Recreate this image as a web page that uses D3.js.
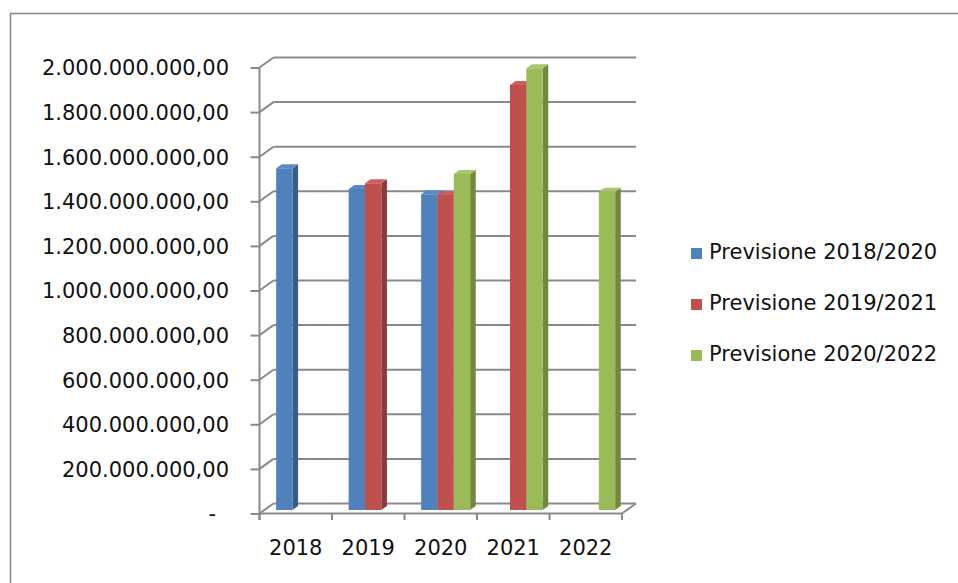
<!DOCTYPE html>
<html>
<head>
<meta charset="utf-8">
<script src="https://cdn.jsdelivr.net/npm/d3@7"></script>
<style>
  html, body { margin: 0; padding: 0; background: #fff; }
  svg { display: block; }
  text { font-family: "DejaVu Sans", sans-serif; fill: #111; }
</style>
</head>
<body>
<svg id="chart" width="958" height="583"></svg>
<script>
// ---- data ----
const categories = ["2018", "2019", "2020", "2021", "2022"];
const seriesNames = ["Previsione 2018/2020", "Previsione 2019/2021", "Previsione 2020/2022"];
const prev2018_2020 = [1532000000, 1439000000, 1416000000, null, null];
const prev2019_2021 = [null, 1465000000, 1412000000, 1906000000, null];
const prev2020_2022 = [null, null, 1507000000, 1981000000, 1427000000];
const yTicks = [0, 200000000, 400000000, 600000000, 800000000, 1000000000,
                1200000000, 1400000000, 1600000000, 1800000000, 2000000000];

const seriesValues = [prev2018_2020, prev2019_2021, prev2020_2022];
const colors = [
  { front: "#4F81BD", side: "#385D8A", top: "#5A8BC6" },
  { front: "#C0504D", side: "#8C3A38", top: "#C9605D" },
  { front: "#9BBB59", side: "#71893F", top: "#A8C66B" }
];

// ---- layout ----
const svg = d3.select("#chart");
const x0 = 259.5, x1 = 622;
const DX = 14, DY = -10;           // depth projection of the back wall
const gridColor = "#898989";

const x = d3.scaleBand().domain(categories).range([x0, x1]).padding(0);
const bw = x.bandwidth();
const inner = d3.scaleBand().domain(d3.range(seriesNames.length))
  .range([(bw - 49) / 2, (bw + 49) / 2]).padding(0);
const y = d3.scaleLinear().domain([0, 2000000000]).range([513.5, 67.5]);
const proj = (px, v, d) => [px + DX * d, y(v) + DY * d];

// frame
svg.append("rect").attr("x", 10.5).attr("y", 13.5).attr("width", 1000).attr("height", 1000)
  .attr("fill", "none").attr("stroke", "#8a8a8a").attr("stroke-width", 1.6);

const grid = svg.append("g").attr("stroke", gridColor).attr("stroke-width", 2).attr("fill", "none");
// back wall gridlines + side wall diagonals
yTicks.forEach(t => {
  const a = proj(x0, t, 1), b = proj(x1, t, 1), c = proj(x0, t, 0);
  grid.append("line").attr("x1", a[0]).attr("y1", a[1]).attr("x2", b[0]).attr("y2", b[1]);
  grid.append("line").attr("x1", c[0]).attr("y1", c[1]).attr("x2", a[0]).attr("y2", a[1]);
});
// floor front edge and right edge
{
  const a = proj(x0, 0, 0), b = proj(x1, 0, 0), c = proj(x1, 0, 1);
  grid.append("line").attr("x1", a[0]).attr("y1", a[1]).attr("x2", b[0]).attr("y2", b[1]);
  grid.append("line").attr("x1", b[0]).attr("y1", b[1]).attr("x2", c[0]).attr("y2", c[1]);
}
// category boundary ticks
categories.concat([null]).forEach((c, i) => {
  const px = x0 + i * bw;
  grid.append("line").attr("x1", px).attr("y1", y(0)).attr("x2", px).attr("y2", y(0) + 6.5);
});

// y axis (front)
const it = d3.formatLocale({ decimal: ",", thousands: ".", grouping: [3], currency: ["€", ""] });
const fmt = it.format(",.2f");
const yAxis = d3.axisLeft(y).tickValues(yTicks)
  .tickFormat(v => v === 0 ? "-" : fmt(v)).tickSize(9).tickPadding(21.5);
const gy = svg.append("g").attr("transform", `translate(${x0},0)`).call(yAxis);
gy.select(".domain").attr("stroke", gridColor).attr("stroke-width", 2)
  .attr("d", `M0,${y(2000000000)}V${y(0) + 6.5}`);
gy.selectAll(".tick line").attr("stroke", gridColor).attr("stroke-width", 2);
gy.selectAll(".tick text").attr("font-size", 21).attr("font-family", "DejaVu Sans")
  .attr("fill", "#111").attr("dy", "0.35em");
gy.selectAll(".tick text").filter(d => d === 0).attr("x", -(x0 - 216));

// x axis labels
const xAxis = d3.axisBottom(x).tickSize(0).tickPadding(26.5);
const gx = svg.append("g").attr("transform", `translate(0,${y(0)})`).call(xAxis);
gx.select(".domain").remove();
gx.selectAll(".tick text").attr("font-size", 21).attr("font-family", "DejaVu Sans").attr("fill", "#111");

// bars (3D: front face, side face, top face)
const dFront = 0.35, dBack = 0.75;
const bars = svg.append("g");
categories.forEach((cat, ci) => {
  seriesValues.forEach((vals, si) => {
    const v = vals[ci];
    if (v == null) return;
    const xl = x(cat) + inner(si), xr = xl + inner.bandwidth();
    const fl0 = proj(xl, 0, dFront), fr0 = proj(xr, 0, dFront);
    const flT = proj(xl, v, dFront), frT = proj(xr, v, dFront);
    const blT = proj(xl, v, dBack), brT = proj(xr, v, dBack), br0 = proj(xr, 0, dBack);
    const g = bars.append("g");
    // side
    g.append("path").attr("fill", colors[si].side)
      .attr("d", `M${fr0}L${frT}L${brT}L${br0}Z`);
    // top
    g.append("path").attr("fill", colors[si].top)
      .attr("d", `M${flT}L${frT}L${brT}L${blT}Z`);
    // front
    g.append("path").attr("fill", colors[si].front)
      .attr("d", `M${fl0}L${flT}L${frT}L${fr0}Z`);
  });
});

// legend
const lg = svg.append("g");
seriesNames.forEach((name, i) => {
  lg.append("rect").attr("x", 691).attr("y", 248 + i * 51).attr("width", 11).attr("height", 11)
    .attr("fill", colors[i].front);
  lg.append("text").attr("x", 709).attr("y", 259.3 + i * 51).attr("font-size", 21).text(name);
});
</script>
</body>
</html>
